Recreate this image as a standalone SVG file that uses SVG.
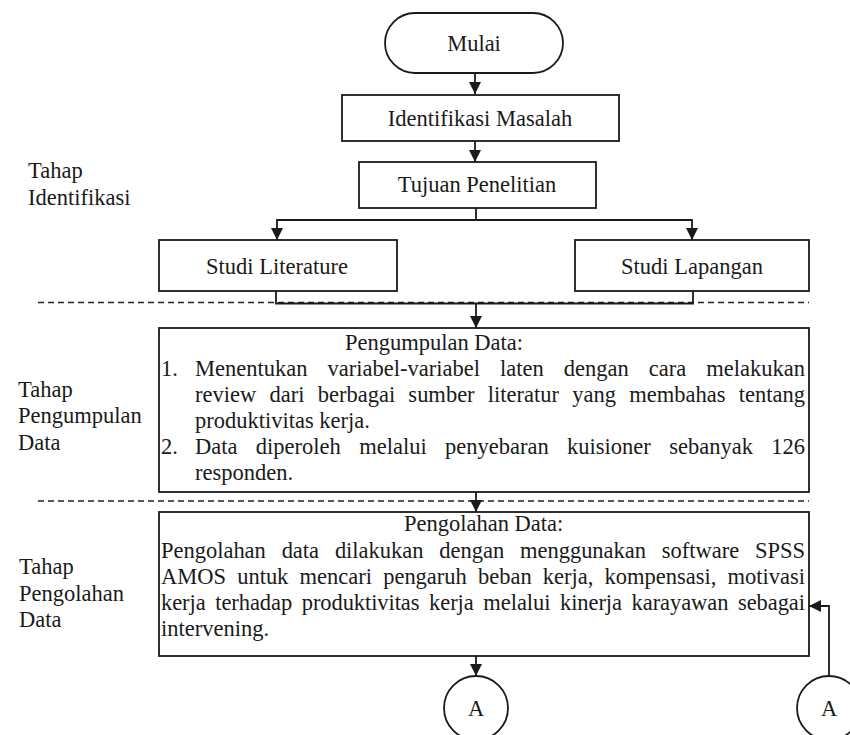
<svg xmlns="http://www.w3.org/2000/svg" width="850" height="735" viewBox="0 0 850 735" font-family="'Liberation Serif', 'Times New Roman', 'DejaVu Serif', serif">
<style>
.box{fill:#fff;stroke:#1a1a1a;stroke-width:1.8}
.ln{fill:none;stroke:#1a1a1a;stroke-width:1.8}
.dash{fill:none;stroke:#222;stroke-width:1.6;stroke-dasharray:6 4}
.t{font-family:'Liberation Serif','Times New Roman','DejaVu Serif',serif;font-size:22.5px;fill:#1a1a1a}
.c{text-anchor:middle}
</style>
<defs>
<marker id="arr" markerUnits="userSpaceOnUse" markerWidth="12" markerHeight="14" refX="12" refY="6" orient="auto">
<path d="M0,0 L12,6 L0,12 Z" fill="#1a1a1a"/>
</marker>
</defs>
<g id="labels" class="t">
<text x="28" y="178">Tahap</text>
<text x="28" y="205">Identifikasi</text>
<text x="18" y="397">Tahap</text>
<text x="18" y="423">Pengumpulan</text>
<text x="18" y="450">Data</text>
<text x="19" y="574">Tahap</text>
<text x="19" y="601">Pengolahan</text>
<text x="19" y="627">Data</text>
</g>
<g id="dividers">
<line class="dash" x1="38" y1="302.5" x2="809" y2="302.5"/>
<line class="dash" x1="38" y1="501" x2="809" y2="501"/>
</g>
<g id="connectors">
<path class="ln" d="M475,73 V94" marker-end="url(#arr)"/>
<path class="ln" d="M475,141 V162" marker-end="url(#arr)"/>
<path class="ln" d="M476,208 V220 H277 V240" marker-end="url(#arr)"/>
<path class="ln" d="M476,220 H692 V240" marker-end="url(#arr)"/>
<path class="ln" d="M276,291 V303.5 H693 V291"/>
<path class="ln" d="M476,303.5 V328" marker-end="url(#arr)"/>
<path class="ln" d="M476,492 V512" marker-end="url(#arr)"/>
<path class="ln" d="M476,656 V676" marker-end="url(#arr)"/>
<path class="ln" d="M829,676 V606 H809" marker-end="url(#arr)"/>
</g>
<g id="mulai" class="t">
<rect class="box" x="385" y="13" width="178" height="60" rx="30" ry="30"/>
<text class="c" x="474" y="51">Mulai</text>
</g>
<g id="identifikasi" class="t">
<rect class="box" x="342" y="95" width="277" height="46"/>
<text class="c" x="480" y="126">Identifikasi Masalah</text>
</g>
<g id="tujuan" class="t">
<rect class="box" x="359" y="162" width="237" height="46"/>
<text class="c" x="477" y="192">Tujuan Penelitian</text>
</g>
<g id="literature" class="t">
<rect class="box" x="159" y="240" width="238" height="51"/>
<text class="c" x="277" y="274">Studi Literature</text>
</g>
<g id="lapangan" class="t">
<rect class="box" x="575" y="240" width="234" height="51"/>
<text class="c" x="692" y="274">Studi Lapangan</text>
</g>
<g id="pengumpulan" class="t">
<rect class="box" x="159" y="328" width="650" height="164"/>
<text x="345" y="350">Pengumpulan Data:</text>
<text x="161" y="376">1.</text>
<text x="195" y="376" word-spacing="14.4" textLength="610" lengthAdjust="spacing">Menentukan variabel-variabel laten dengan cara melakukan</text>
<text x="195" y="402" word-spacing="7.6" textLength="610" lengthAdjust="spacing">review dari berbagai sumber literatur yang membahas tentang</text>
<text x="195" y="428">produktivitas kerja.</text>
<text x="161" y="454">2.</text>
<text x="195" y="454" word-spacing="12.7" textLength="610" lengthAdjust="spacing">Data diperoleh melalui penyebaran kuisioner sebanyak 126</text>
<text x="195" y="480">responden.</text>
</g>
<g id="pengolahan" class="t">
<rect class="box" x="159" y="512" width="650" height="144"/>
<text x="404" y="531">Pengolahan Data:</text>
<text x="161" y="558" word-spacing="10.2" textLength="644" lengthAdjust="spacing">Pengolahan data dilakukan dengan menggunakan software SPSS</text>
<text x="161" y="584" word-spacing="5.6" textLength="644" lengthAdjust="spacing">AMOS untuk mencari pengaruh beban kerja, kompensasi, motivasi</text>
<text x="161" y="610" word-spacing="4.1" textLength="644" lengthAdjust="spacing">kerja terhadap produktivitas kerja melalui kinerja karayawan sebagai</text>
<text x="161" y="636">intervening.</text>
</g>
<g id="connectorA1" class="t">
<circle class="box" cx="476" cy="708" r="32"/>
<text class="c" x="476" y="716">A</text>
</g>
<g id="connectorA2" class="t">
<circle class="box" cx="829" cy="708" r="32"/>
<text class="c" x="829" y="716">A</text>
</g>
</svg>
